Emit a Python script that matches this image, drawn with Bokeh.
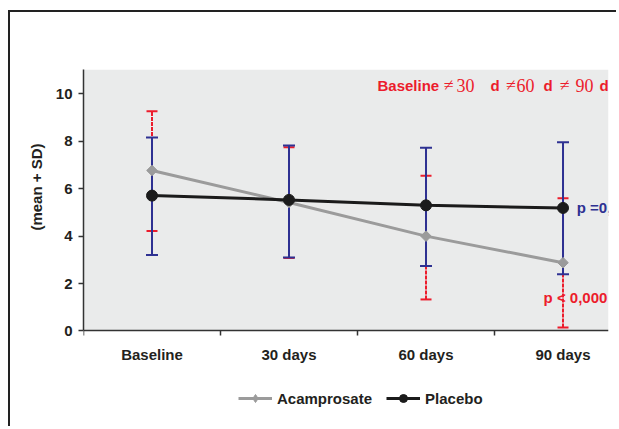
import math
from bokeh.plotting import figure
from bokeh.models import ColumnDataSource, FixedTicker, Legend, LegendItem, BoxAnnotation, Title
from bokeh.core.properties import value
from bokeh.embed import file_html
from bokeh.resources import INLINE

# ---- data ----
categories = ["Baseline", "30 days", "60 days", "90 days"]
acam_mean = [6.77, 5.42, 4.0, 2.88]
acam_upper = [9.27, 7.75, 6.55, 5.6]
acam_lower = [4.22, 3.08, 1.33, 0.15]
plac_mean = [5.71, 5.53, 5.3, 5.19]
plac_upper = [8.16, 7.82, 7.73, 7.96]
plac_lower = [3.2, 3.1, 2.74, 2.39]
y_ticks = [0, 2, 4, 6, 8, 10]

FONT = "Liberation Sans"
SERIF = "Liberation Serif"
RED = "#ec1c2c"
BLUE = "#2e3192"
TXT = "#231f20"
GRAY = "#9b9b9b"
Y_TOP = 11.03

xpos = [i + 0.5 for i in range(len(categories))]

p = figure(width=608, height=416, x_range=(0, 3.832), y_range=(-4.114, Y_TOP),
           output_backend="svg", toolbar_location=None,
           min_border_left=73, min_border_right=10, min_border_top=57, min_border_bottom=0)
p.styles = {"border-top": "2px solid #222", "border-left": "2px solid #222",
            "margin-top": "10px", "margin-left": "8px"}
p.background_fill_color = "white"
p.border_fill_color = "white"
p.outline_line_color = None
p.grid.visible = False
p.add_layout(BoxAnnotation(bottom=0, fill_color="#eaebeb", fill_alpha=1.0,
                           line_color=None, level="underlay"))

acam = ColumnDataSource(dict(x=xpos, m=acam_mean, u=acam_upper, l=acam_lower))
plac = ColumnDataSource(dict(x=xpos, m=plac_mean, u=plac_upper, l=plac_lower))

# red error bars (acamprosate)
p.segment(x0="x", y0="l", x1="x", y1="u", source=acam, line_color=RED, line_width=2, line_dash="4 1")
p.scatter(x="x", y="u", source=acam, marker="dash", size=11, line_color=RED, line_width=2)
p.scatter(x="x", y="l", source=acam, marker="dash", size=11, line_color=RED, line_width=2)
# blue error bars (placebo)
p.segment(x0="x", y0="l", x1="x", y1="u", source=plac, line_color=BLUE, line_width=2)
p.scatter(x="x", y="u", source=plac, marker="dash", size=12, line_color=BLUE, line_width=2)
p.scatter(x="x", y="l", source=plac, marker="dash", size=12, line_color=BLUE, line_width=2)

la = p.line(x="x", y="m", source=acam, line_color=GRAY, line_width=3)
p.scatter(x="x", y="m", source=acam, marker="square", angle=math.pi / 4, size=7.5,
          fill_color=GRAY, line_color=GRAY)
# hidden twin of the markers, used only for the legend swatch (diamond)
ma_leg = p.scatter(x="x", y="m", source=acam, marker="diamond", size=10,
                   fill_color=GRAY, line_color=GRAY, visible=False)
lp = p.line(x="x", y="m", source=plac, line_color="#1b1b1b", line_width=3)
mp = p.scatter(x="x", y="m", source=plac, marker="circle", size=11,
               fill_color="#1b1b1b", line_color="#1b1b1b")

# annotations
def txt(x, y, s, color, font, size, style):
    p.text(x=[x], y=[y], text=[s], text_color=color, text_font=value(font),
           text_font_size=size, text_font_style=style, text_baseline="middle", text_align="left")

hy = 10.37
txt(2.146, hy, "Baseline", RED, FONT, "15px", "bold")
txt(2.630, hy, "\u2260", RED, SERIF, "18px", "normal")
txt(2.723, hy, "30", RED, SERIF, "18px", "normal")
txt(2.971, hy, "d", RED, FONT, "15px", "bold")
txt(3.083, hy, "\u2260", RED, SERIF, "18px", "normal")
txt(3.161, hy, "60", RED, SERIF, "18px", "normal")
txt(3.358, hy, "d", RED, FONT, "15px", "bold")
txt(3.477, hy, "\u2260", RED, SERIF, "18px", "normal")
txt(3.591, hy, "90", RED, SERIF, "18px", "normal")
txt(3.766, hy, "d", RED, FONT, "15px", "bold")
txt(3.600, 5.2, "p =0,", BLUE, FONT, "15px", "bold")
txt(3.358, 1.4, "p < 0,000", RED, FONT, "15px", "bold")

# axes
xa = p.xaxis[0]
xa.fixed_location = 0
xa.ticker = FixedTicker(ticks=xpos, minor_ticks=[0, 1, 2, 3])
xa.major_label_overrides = {x: c for x, c in zip(xpos, categories)}
xa.major_tick_line_color = None
xa.major_tick_out = 0
xa.minor_tick_in = 0
xa.minor_tick_out = 5
xa.minor_tick_line_color = "#333333"
xa.minor_tick_line_width = 1.5
xa.major_label_standoff = 10

ya = p.yaxis[0]
ya.bounds = (0, Y_TOP)
ya.ticker = FixedTicker(ticks=y_ticks)
ya.minor_tick_line_color = None
ya.major_tick_in = 0
ya.major_tick_out = 5
ya.major_tick_line_color = "#333333"
ya.major_tick_line_width = 1.5
ya.major_label_standoff = 6

for ax in (xa, ya):
    ax.axis_line_color = "#333333"
    ax.axis_line_width = 1.5
    ax.major_label_text_font = FONT
    ax.major_label_text_font_style = "bold"
    ax.major_label_text_font_size = "15px"
    ax.major_label_text_color = TXT

# y-axis label as a side title, placed over the 0..11 span
p.add_layout(Title(text="(mean + SD)", align="right", offset=74, standoff=15,
                   text_font=FONT, text_font_style="bold", text_font_size="15px",
                   text_color=TXT), "left")

legend = Legend(items=[LegendItem(label="Acamprosate", renderers=[la, ma_leg]),
                       LegendItem(label="Placebo", renderers=[lp, mp])],
                location=(155, 20), orientation="horizontal", padding=0, margin=0,
                border_line_color=None, background_fill_alpha=0,
                glyph_width=34, label_standoff=5, spacing=14,
                label_text_font=FONT, label_text_font_style="bold",
                label_text_font_size="15px", label_text_color=TXT)
p.add_layout(legend, "center")

open("out.html", "w").write(file_html(p, INLINE))
